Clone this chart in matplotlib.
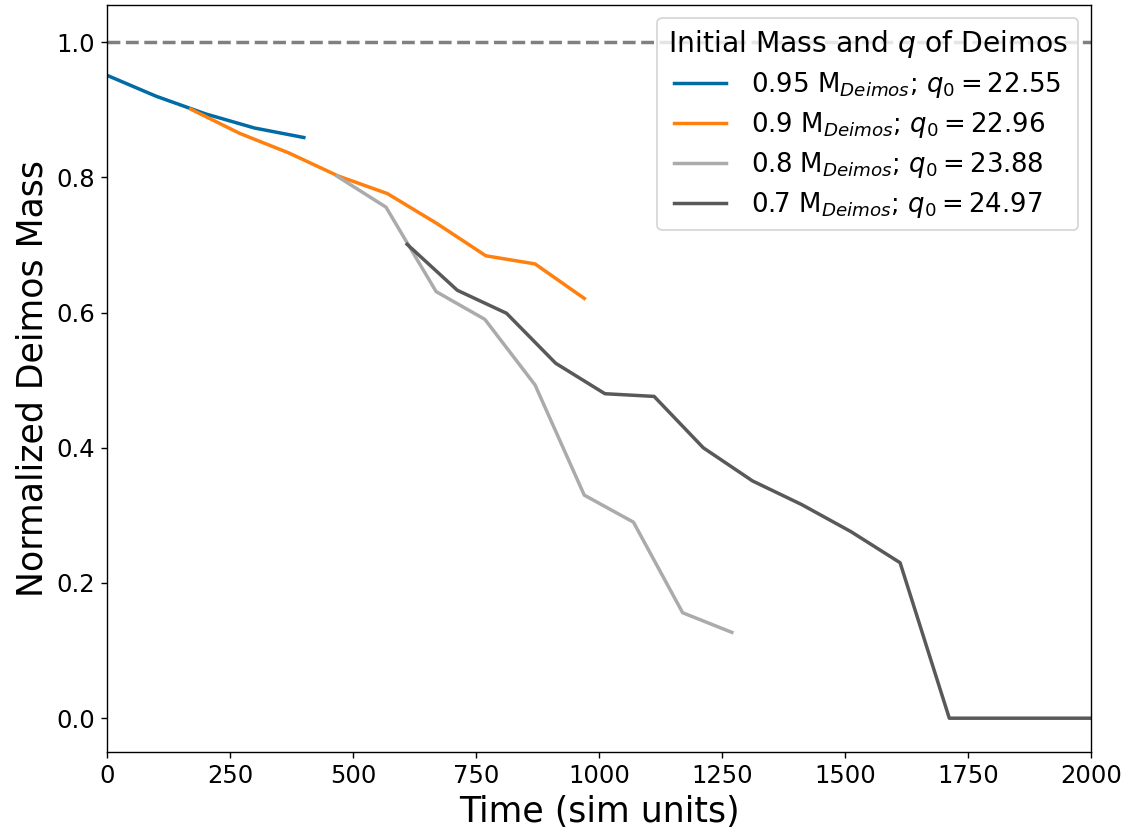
import matplotlib
matplotlib.use("Agg")
import matplotlib.pyplot as plt

# Data
t_095 = [0, 100, 200, 300, 400]
m_095 = [0.951, 0.920, 0.894, 0.873, 0.859]

t_090 = [170, 270, 370, 470, 570, 670, 770, 870, 970]
m_090 = [0.901, 0.865, 0.836, 0.802, 0.776, 0.732, 0.684, 0.672, 0.621]

t_080 = [467, 567, 669, 768, 870, 970, 1070, 1170, 1270]
m_080 = [0.802, 0.756, 0.631, 0.590, 0.493, 0.330, 0.290, 0.156, 0.127]

t_070 = [610, 712, 812, 912, 1012, 1112, 1212, 1312, 1412, 1512, 1612, 1712, 1812, 1912, 2012]
m_070 = [0.701, 0.633, 0.599, 0.525, 0.480, 0.476, 0.400, 0.351, 0.316, 0.276, 0.230, 0.0, 0.0, 0.0, 0.0]

labels = [r'0.95 M$_{Deimos}$; $q_0 = 22.55$',
          r'0.9 M$_{Deimos}$; $q_0 = 22.96$',
          r'0.8 M$_{Deimos}$; $q_0 = 23.88$',
          r'0.7 M$_{Deimos}$; $q_0 = 24.97$']
colors = ['#006BA4', '#FF800E', '#ABABAB', '#595959']

DPI = 125
fig = plt.figure(figsize=(1127/DPI, 832/DPI), dpi=DPI)
ax = fig.add_axes([107/1127, 1-752/832, (1091-107)/1127, (752-5)/832])

ax.axhline(1.0, color='gray', linestyle='--', linewidth=2)
for t, m, lab, c in zip([t_095, t_090, t_080, t_070], [m_095, m_090, m_080, m_070], labels, colors):
    ax.plot(t, m, color=c, linewidth=2, label=lab)

ax.set_xlim(0, 2000)
ax.set_ylim(-0.05, 1.055)
ax.set_xticks([0, 250, 500, 750, 1000, 1250, 1500, 1750, 2000])
ax.set_yticks([0.0, 0.2, 0.4, 0.6, 0.8, 1.0])
ax.tick_params(labelsize=14)
ax.set_xlabel('Time (sim units)', fontsize=20)
ax.set_ylabel('Normalized Deimos Mass', fontsize=20)
ax.legend(title=r'Initial Mass and $q$ of Deimos', fontsize=15, title_fontsize=16.3,
          loc='upper right', labelspacing=0.38, handletextpad=0.95)

fig.savefig('out.png', dpi=DPI)
